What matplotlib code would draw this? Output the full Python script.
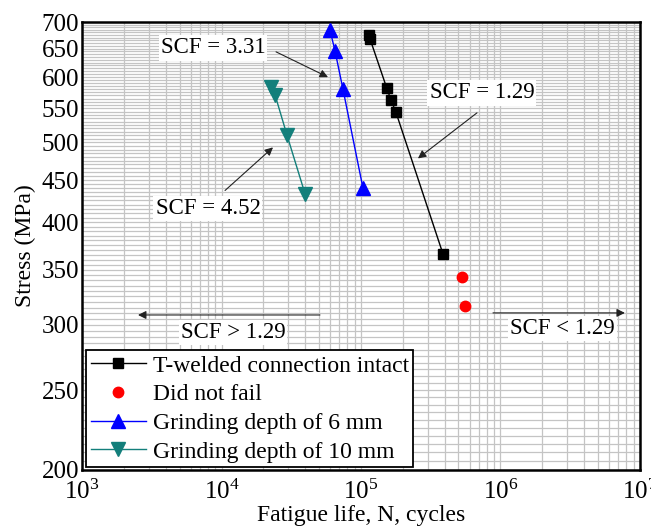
import numpy as np
import matplotlib
matplotlib.use("Agg")
import matplotlib.pyplot as plt
from matplotlib.ticker import FixedLocator, NullFormatter, FuncFormatter, LogLocator

plt.rcParams["font.family"] = "Liberation Serif"
plt.rcParams["mathtext.fontset"] = "custom"
plt.rcParams["mathtext.rm"] = "Liberation Serif"
plt.rcParams["mathtext.it"] = "Liberation Serif:italic"

# data
intact_n = [114000, 116000, 153000, 164000, 178000, 387000]
intact_s = [675, 668, 582, 563, 544, 366]
runout_n = [530000, 557000]
runout_s = [343, 316]
grind6_n = [60000, 65100, 74300, 103300]
grind6_s = [684, 646, 580, 440]
grind10_n = [22600, 24200, 29500, 39700]
grind10_s = [584, 571, 510, 433]

y_ticks = [200, 250, 300, 350, 400, 450, 500, 550, 600, 650, 700]
x_ticks = [1e3, 1e4, 1e5, 1e6, 1e7]

TEAL = "#137f7b"
GRID = "#c4c4c4"

fig = plt.figure(figsize=(6.51, 5.31), dpi=100)
ax = fig.add_axes([0.126, 0.115, 0.857, 0.8435])

ax.set_xscale("log")
ax.set_yscale("log")
ax.set_xlim(1e3, 1e7)
ax.set_ylim(200, 700)

# dense grid like the original graph paper
ax.xaxis.set_major_locator(FixedLocator(x_ticks))
ax.xaxis.set_minor_locator(LogLocator(base=10, subs=np.arange(2, 10)))
ax.xaxis.set_minor_formatter(NullFormatter())
ax.xaxis.set_major_formatter(FuncFormatter(lambda v, p: r"$\mathregular{10^{%d}}$" % round(np.log10(v))))
ax.yaxis.set_major_locator(FixedLocator(y_ticks))
ax.yaxis.set_minor_locator(FixedLocator(np.arange(200, 701, 5)))
ax.yaxis.set_minor_formatter(NullFormatter())
ax.yaxis.set_major_formatter(FuncFormatter(lambda v, p: "%d" % v))
ax.grid(which="both", color=GRID, linewidth=0.9)
ax.set_axisbelow(True)

ax.tick_params(which="both", direction="in", length=0, labelsize=18, pad=2)
ax.tick_params(axis="x", pad=7)
for sp in ax.spines.values():
    sp.set_linewidth(1.8)
    sp.set_color("black")

ax.plot(intact_n, intact_s, color="black", lw=1, marker="s", ms=7.5,
        label="T-welded connection intact", zorder=3)
ax.plot(runout_n, runout_s, ls="none", color="red", marker="o", ms=7.5,
        label="Did not fail", zorder=3)
ax.plot(grind6_n, grind6_s, color="blue", lw=1, marker="^", ms=9.5,
        label="Grinding depth of 6 mm", zorder=3)
ax.plot(grind10_n, grind10_s, color=TEAL, lw=1, marker="v", ms=9.5,
        label="Grinding depth of 10 mm", zorder=3)

ax.set_xlabel("Fatigue life, N, cycles", fontsize=17, labelpad=1)
ax.set_ylabel("Stress (MPa)", fontsize=17, labelpad=4)

# annotations: text, arrow tail, arrow head
notes = [
    ("SCF = 3.31", (8690, 651), (24600, 644), (58000, 600)),
    ("SCF = 4.52", (8000, 416), (10600, 437), (23400, 493)),
    ("SCF = 1.29", (736000, 574), (679000, 543), (256000, 478)),
    ("SCF > 1.29", (12100, 294), (50800, 308.5), (2520, 308.5)),
    ("SCF < 1.29", (2.8e6, 297.4), (884000, 310.3), (7.8e6, 310.3)),
]
for txt, tpos, tail, head in notes:
    ax.text(*tpos, txt, fontsize=16.5, ha="center", va="center", zorder=4,
            bbox=dict(facecolor="white", edgecolor="none", pad=1.5))
    ax.annotate("", xy=head, xytext=tail, zorder=4,
                arrowprops=dict(arrowstyle="-|>", color="#222222", lw=0.8,
                                mutation_scale=12, shrinkA=0, shrinkB=0))

leg = ax.legend(loc="lower left", bbox_to_anchor=(0.008, 0.006), borderaxespad=0,
                fontsize=17, fancybox=False, edgecolor="black", framealpha=1,
                labelspacing=0.3, handlelength=2.3, handletextpad=0.3,
                borderpad=0.2)
leg.get_frame().set_linewidth(1.3)
leg.set_zorder(5)

fig.savefig("out.png", dpi=100)
